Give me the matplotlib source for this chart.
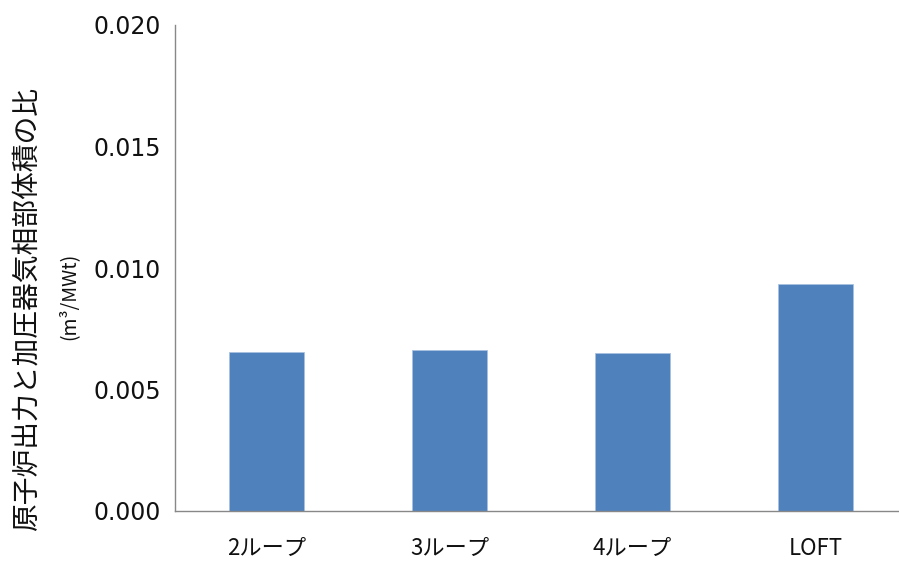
import matplotlib

matplotlib.use("Agg")
import matplotlib.pyplot as plt

plt.rcParams["font.family"] = ["Noto Sans CJK JP", "DejaVu Sans"]

categories = ["2ループ", "3ループ", "4ループ", "LOFT"]
ratios = [0.00656, 0.00661, 0.00650, 0.00935]
y_ticks = [0.000, 0.005, 0.010, 0.015, 0.020]

BAR_COLOR = "#4F81BD"
AXIS_COLOR = "#888888"

fig = plt.figure(figsize=(8.99, 5.63), dpi=100)
ax = fig.add_axes([175 / 899, 52 / 563, 732 / 899, 486 / 563])

x = range(len(categories))
ax.bar(x, ratios, width=0.41, color=BAR_COLOR, edgecolor="#A9C1E0", linewidth=0.6)

ax.set_xlim(-0.5, len(categories) - 0.5)
ax.set_ylim(0, 0.020)
ax.set_yticks(y_ticks)
ax.set_yticklabels([f"{v:.3f}" for v in y_ticks], family=["DejaVu Sans"], fontsize=17)
ax.set_xticks(list(x))
ax.set_xticklabels(categories, fontsize=16)
ax.tick_params(axis="y", length=0, pad=10, colors="#111111")
ax.tick_params(axis="x", length=0, pad=19, colors="#111111")

for side in ("top", "right"):
    ax.spines[side].set_visible(False)
for side in ("left", "bottom"):
    ax.spines[side].set_color(AXIS_COLOR)
    ax.spines[side].set_linewidth(1.0)

fig.text(28 / 899, 1 - 309 / 563, "原子炉出力と加圧器気相部体積の比",
         rotation=90, ha="center", va="center", fontsize=20, color="#111111")
fig.text(69 / 899, 1 - 296 / 563, "(m³/MWt)",
         rotation=90, ha="center", va="center", fontsize=14, color="#111111")

fig.savefig("out.png", dpi=100)
plt.close(fig)
